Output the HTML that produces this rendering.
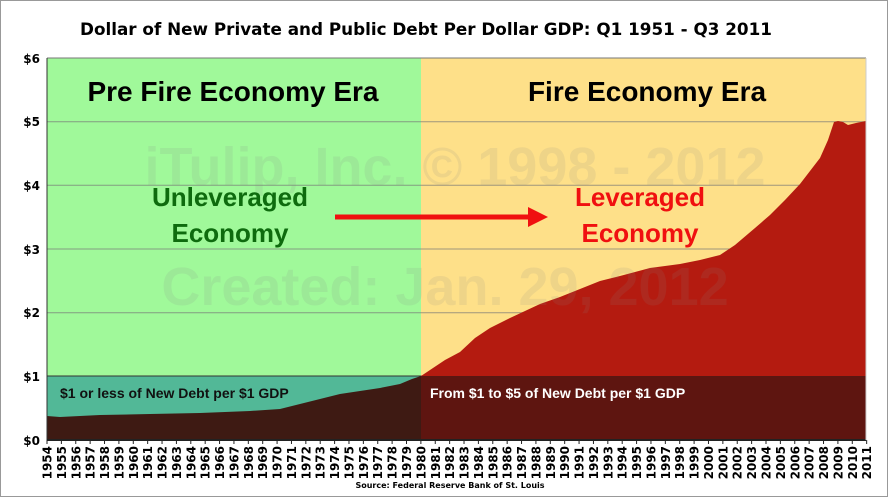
<!DOCTYPE html>
<html><head><style>
body{margin:0;background:#fff;}
svg{display:block;font-family:"Liberation Sans",sans-serif;}
</style></head><body>
<svg width="888" height="497" viewBox="0 0 888 497" xmlns="http://www.w3.org/2000/svg">
<rect x="0.5" y="0.5" width="887" height="496" fill="#fff" stroke="#999"/>
<text x="426" y="35" text-anchor="middle" font-size="16.8" font-weight="bold" font-family="DejaVu Sans,sans-serif">Dollar of New Private and Public Debt Per Dollar GDP: Q1 1951 - Q3 2011</text>
<rect x="47" y="58" width="374" height="318" fill="#a0f99a"/>
<rect x="421" y="58" width="445" height="318" fill="#fee089"/>
<rect x="47" y="376" width="374" height="64" fill="#52b897"/>
<rect x="421" y="376" width="445" height="64" fill="#5e1510"/>
<g stroke="#777" stroke-width="1" opacity="0.7">
<line x1="47" y1="121.7" x2="866" y2="121.7"/>
<line x1="47" y1="185.3" x2="866" y2="185.3"/>
<line x1="47" y1="249" x2="866" y2="249"/>
<line x1="47" y1="312.7" x2="866" y2="312.7"/>
</g>
<line x1="47" y1="376" x2="866" y2="376" stroke="#333"/>
<line x1="47" y1="58" x2="866" y2="58" stroke="#777"/>
<path d="M47,440 L47,416 60,417 100,415 150,414 200,413 250,411 280,409 300,404 320,399 340,394 360,391 380,388 400,384 412,379 421,376 L421,440Z" fill="#3e1a13"/>
<path d="M421,376 L430,370 445,360 460,352 475,338 490,328 510,318 540,304 560,297 590,285 600,281 620,276 650,268 680,264 700,260 720,255 735,245 755,228 770,215 785,200 800,184 810,171 820,158 828,140 834,122 838,121 843,122 848,125 856,123 866,121 L866,376Z" fill="#b41b10"/>
<rect x="421" y="376" width="445" height="64" fill="#5e1510" opacity="0.85"/>
<g font-size="54" font-weight="bold" fill="#888" opacity="0.13" text-anchor="middle">
<text x="455" y="185">iTulip, Inc. © 1998 - 2012</text>
<text x="445" y="305">Created: Jan. 29, 2012</text>
</g>
<text x="233" y="101" text-anchor="middle" font-size="28" font-weight="bold">Pre Fire Economy Era</text>
<text x="647" y="101" text-anchor="middle" font-size="28" font-weight="bold">Fire Economy Era</text>
<g font-size="26" font-weight="bold" text-anchor="middle" fill="#0e6b0e">
<text x="230" y="206">Unleveraged</text><text x="230" y="242">Economy</text></g>
<g font-size="26" font-weight="bold" text-anchor="middle" fill="#f01010">
<text x="640" y="206">Leveraged</text><text x="640" y="242">Economy</text></g>
<line x1="335" y1="217" x2="530" y2="217" stroke="#f01010" stroke-width="5"/>
<polygon points="528,207 548,217 528,227" fill="#f01010"/>
<text x="60" y="398" font-size="14" font-weight="bold" fill="#111">$1 or less of New Debt per $1 GDP</text>
<text x="430" y="398" font-size="14" font-weight="bold" fill="#fff">From $1 to $5 of New Debt per $1 GDP</text>
<line x1="47" y1="58" x2="47" y2="440" stroke="#333"/>
<line x1="47" y1="440" x2="866" y2="440" stroke="#222" stroke-width="2"/>
<line x1="866" y1="58" x2="866" y2="440" stroke="#ccc"/>
<g font-size="12" font-weight="bold" font-family="DejaVu Sans,sans-serif" text-anchor="end">
<text x="40" y="63">$6</text><text x="40" y="126">$5</text><text x="40" y="190">$4</text><text x="40" y="254">$3</text><text x="40" y="317">$2</text><text x="40" y="381">$1</text><text x="40" y="445">$0</text>
</g>
<g id="yrs" font-size="12" font-weight="bold" font-family="DejaVu Sans,sans-serif" text-anchor="end"></g>
<text x="450" y="488" text-anchor="middle" font-size="8" font-weight="bold" font-family="DejaVu Sans,sans-serif">Source: Federal Reserve Bank of St. Louis</text>
</svg>
<script>
var g=document.getElementById('yrs'),s='';
for(var i=0;i<58;i++){var x=47+i*14.38;
s+='<line x1="'+x+'" y1="440" x2="'+x+'" y2="444" stroke="#222"/>';
s+='<text transform="translate('+(x+4.5)+',446) rotate(-90)">'+(1954+i)+'</text>';}
g.innerHTML=s;
</script>
</body></html>
